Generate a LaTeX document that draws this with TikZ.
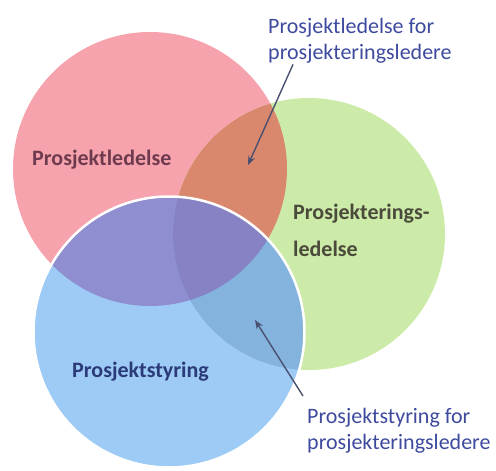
\documentclass[tikz,border=0pt]{standalone}
\usepackage{fontspec}
\setmainfont{Carlito}
\usetikzlibrary{arrows.meta}

\definecolor{pinkfill}{HTML}{F7A3AE}
\definecolor{greenfill}{HTML}{CDEBA8}
\definecolor{bluefill}{HTML}{9DCBF5}
\definecolor{pinkgreen}{HTML}{D9886E}
\definecolor{pinkblue}{HTML}{8E8ED0}
\definecolor{bluegreen}{HTML}{84B4DE}
\definecolor{allthree}{HTML}{8682C4}
\definecolor{labelred}{HTML}{6E3A4E}
\definecolor{labelgreen}{HTML}{4B4B3C}
\definecolor{labelblue}{HTML}{2B3A78}
\definecolor{notecolor}{HTML}{3D4A9E}
\definecolor{arrowcolor}{HTML}{4A5070}

\begin{document}
\begin{tikzpicture}[x=1pt,y=-1pt,
  setlabel/.style={font=\fontsize{22}{37}\selectfont\bfseries, inner sep=0pt, anchor=north west, align=left},
  note/.style={font=\fontsize{22}{26}\selectfont, text=notecolor, inner sep=0pt, anchor=north west, align=left},
  pointer/.style={draw=arrowcolor, line width=1.4pt, -{Stealth[length=9pt,width=7pt]}}]
\useasboundingbox (0,0) rectangle (496,471);

% the three sets
\def\redc{(150,169) circle[radius=137]}
\def\greenc{(309,234) circle[radius=136]}
\def\bluec{(169,332) circle[radius=135.5]}

\fill[pinkfill] \redc;
\fill[greenfill] \greenc;
\fill[bluefill] \bluec;

% pairwise overlaps
\begin{scope}
  \clip \redc;
  \fill[pinkgreen] \greenc;
  \fill[pinkblue] \bluec;
\end{scope}
\begin{scope}
  \clip \bluec;
  \fill[bluegreen] \greenc;
\end{scope}
% all three
\begin{scope}
  \clip \redc;
  \clip \bluec;
  \fill[allthree] \greenc;
\end{scope}

% white rim of the front circle
\draw[white, line width=2.5pt] \bluec;

% set names
\node[setlabel, text=labelred] (pl) at (32,150) {Prosjektledelse};
\node[setlabel, text=labelgreen] (pe) at (293,204) {Prosjekterings-\\ledelse};
\node[setlabel, text=labelblue] (ps) at (72,362) {Prosjektstyring};

% notes on the overlaps
\node[note] (na) at (268,18) {Prosjektledelse for\\prosjekteringsledere};
\node[note] (nb) at (307,408) {Prosjektstyring for\\prosjekteringsledere};

\coordinate (tipa) at (248,165);
\coordinate (tipb) at (255,320);

\draw[pointer] ([xshift=25pt,yshift=-1pt]na.south west) -- (tipa);
\draw[pointer] ([xshift=-4pt,yshift=12pt]nb.north west) -- (tipb);
\end{tikzpicture}
\end{document}
